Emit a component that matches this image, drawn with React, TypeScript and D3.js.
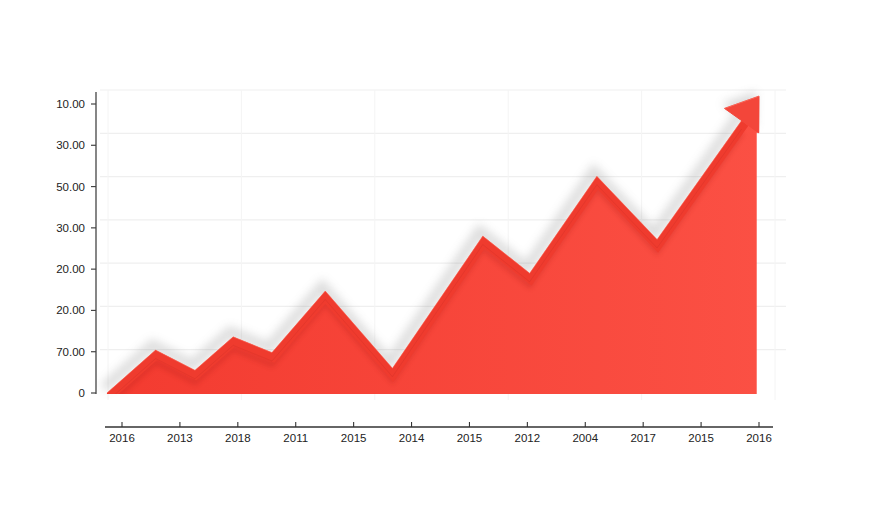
import React from "react";
import * as d3 from "d3";

const categories = ["2016", "2013", "2018", "2011", "2015", "2014", "2015", "2012", "2004", "2017", "2015", "2016"];
const yTickLabels = ["0", "70.00", "20.00", "20.00", "30.00", "50.00", "30.00", "10.00"];
// ridge vertices: position along the category axis (fractional index) and value (tick units)
const pointPos = [-0.26, 0.58, 1.26, 1.92, 2.59, 3.51, 4.67, 6.23, 7.04, 8.2, 9.24, 11.0];
const pointVal = [0, 1.04, 0.55, 1.36, 0.98, 2.47, 0.6, 3.8, 2.9, 5.25, 3.72, 7.19];

const W = 896;
const H = 512;
const FONT = "'Liberation Sans', Arial, Helvetica, sans-serif";

export default function App() {
  const x = d3.scaleLinear().domain([0, categories.length - 1]).range([122, 759]);
  const y = d3.scaleLinear().domain([0, yTickLabels.length - 1]).range([393, 104]);
  const gridY = d3.scaleLinear().domain([0, yTickLabels.length - 1]).range([393, 90]);
  const gridX = d3.scaleLinear().domain([0, 5]).range([108, 775]);

  const pts: [number, number][] = pointPos.map((p, i) => [x(p), y(pointVal[i])]);
  const tip = pts[pts.length - 1];
  const prev = pts[pts.length - 2];
  const dx = tip[0] - prev[0];
  const dy = tip[1] - prev[1];
  const len = Math.hypot(dx, dy);
  const ux = dx / len;
  const uy = dy / len;
  const px = -uy;
  const py = ux;
  const headLen = 30;
  const headHalf = 21;
  const base: [number, number] = [tip[0] - ux * headLen, tip[1] - uy * headLen];
  const leftBarb: [number, number] = [base[0] - px * headHalf, base[1] - py * headHalf];
  const rightBarb: [number, number] = [base[0] + px * headHalf, base[1] + py * headHalf];

  const ridge: [number, number][] = [...pts.slice(0, -1), base];
  const xRight = rightBarb[0] - 2;
  const areaPts: [number, number][] = [
    ...ridge,
    tip,
    rightBarb,
    [xRight, rightBarb[1]],
    [xRight, y(0) + 1],
    [pts[0][0], y(0) + 1],
  ];
  const bodyPts: [number, number][] = [
    ...ridge,
    [xRight, rightBarb[1]],
    [xRight, y(0) + 1],
    [pts[0][0], y(0) + 1],
  ];
  const line = d3.line<[number, number]>().curve(d3.curveLinear);
  const areaPath = line(areaPts) + "Z";
  const bodyPath = line(bodyPts) + "Z";
  const ridgePath = line(ridge) || "";
  const headPath = line([tip, leftBarb, rightBarb]) + "Z";

  return (
    <div style={{ position: "fixed", left: 0, top: 0, width: W, height: H, background: "#fff" }}>
      <svg width={W} height={H} style={{ display: "block" }}>
        <defs>
          <linearGradient id="fillGrad" x1="0" x2="1" y1="0" y2="0">
            <stop offset="0" stopColor="#f33b30" />
            <stop offset="1" stopColor="#fb5044" />
          </linearGradient>
          <clipPath id="areaClip">
            <path d={bodyPath} />
          </clipPath>
          <filter id="blurShadow" x="-20%" y="-20%" width="140%" height="140%">
            <feGaussianBlur stdDeviation="5" />
          </filter>
          <filter id="blurSmall" x="-20%" y="-20%" width="140%" height="140%">
            <feGaussianBlur stdDeviation="2.5" />
          </filter>
        </defs>

        {/* gridlines */}
        {d3.range(1, yTickLabels.length).map((i) => (
          <line key={"gy" + i} x1={100} x2={786} y1={gridY(i)} y2={gridY(i)} stroke="#efefef" strokeWidth={1.2} />
        ))}
        {d3.range(0, 6).map((i) => (
          <line key={"gx" + i} x1={gridX(i)} x2={gridX(i)} y1={90} y2={400} stroke="#f4f4f4" strokeWidth={1} />
        ))}

        {/* soft shadow above ridge */}
        <g filter="url(#blurShadow)" opacity={0.26}>
          <path d={ridgePath} transform="translate(-3,-5)" fill="none" stroke="#777" strokeWidth={10} strokeLinejoin="miter" />
          <path d={headPath} transform="translate(-3,-5)" fill="#777" />
        </g>

        {/* area body */}
        <path d={areaPath} fill="url(#fillGrad)" />
        <g clipPath="url(#areaClip)">
          {/* inner shading under the ridge band */}
          <path d={ridgePath} transform="translate(0,12)" fill="none" stroke="#b8241a" strokeWidth={5} opacity={0.32} filter="url(#blurSmall)" />
          {/* ridge band */}
          <path d={ridgePath} fill="none" stroke="#ef3b2e" strokeWidth={17} strokeLinejoin="miter" strokeMiterlimit={10} />
          <path d={ridgePath} transform="translate(0,8.5)" fill="none" stroke="#d8322a" strokeWidth={1} opacity={0.45} />
        </g>
        <path d={ridgePath} fill="none" stroke="#ff7d6e" strokeWidth={1} opacity={0.5} />

        {/* arrow head */}
        <path d={headPath} fill="#f3463a" stroke="#f3463a" strokeWidth={1} strokeLinejoin="miter" />
        <path d={line([leftBarb, tip]) || ""} fill="none" stroke="#ff7a6c" strokeWidth={1} opacity={0.5} />

        {/* y axis */}
        <line x1={96} x2={96} y1={92} y2={y(0) + 1} stroke="#444" strokeWidth={1.3} />
        {yTickLabels.map((lab, i) => (
          <g key={"yt" + i} transform={`translate(0,${y(i)})`}>
            <line x1={91} x2={96} stroke="#444" strokeWidth={1.2} />
            <text x={85} dy="0.35em" textAnchor="end" fontFamily={FONT} fontSize={11.5} fill="#222">
              {lab}
            </text>
          </g>
        ))}

        {/* x axis */}
        <line x1={105} x2={773} y1={427} y2={427} stroke="#333" strokeWidth={1.4} />
        {categories.map((c, i) => (
          <g key={"xt" + i} transform={`translate(${x(i)},427)`}>
            <line y1={-5} y2={0} stroke="#333" strokeWidth={1.1} />
            <text y={15} textAnchor="middle" fontFamily={FONT} fontSize={11.5} fill="#222">
              {c}
            </text>
          </g>
        ))}
      </svg>
    </div>
  );
}
